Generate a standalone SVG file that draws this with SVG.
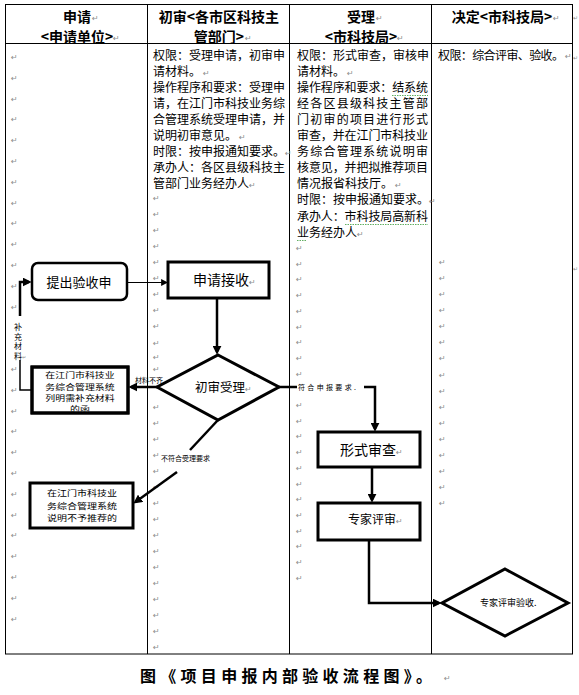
<svg xmlns="http://www.w3.org/2000/svg" width="579" height="695" viewBox="0 0 579 695">
<style>
.tbl{fill:none;stroke:#000;stroke-width:1}
.hd{font-family:"Noto Sans CJK SC","Liberation Sans",sans-serif;font-size:14px;font-weight:bold;text-anchor:middle;fill:#000}
.bd{font-family:"Noto Sans CJK SC","Liberation Sans",sans-serif;font-size:12px;fill:#000}
.pm{font-family:"DejaVu Sans",sans-serif;font-size:8px;fill:#8c8c8c;font-weight:normal}
.pms{font-family:"DejaVu Sans",sans-serif;font-size:6px;fill:#8c8c8c}
.box{fill:#fff;stroke:#000;stroke-width:3}
.nt{font-family:"Noto Sans CJK SC","Liberation Sans",sans-serif;fill:#000}
.cn{fill:none;stroke:#000;stroke-width:2.5;stroke-linejoin:miter}
.thin{fill:none;stroke:#000;stroke-width:1.2}
.lbl{font-family:"Noto Sans CJK SC","Liberation Sans",sans-serif;font-size:7px;fill:#000}
.wavy{fill:none;stroke:#3a9a3a;stroke-width:0.8;stroke-dasharray:1.5 1}
</style>
<defs>
<marker id="ah" viewBox="0 0 10 10" refX="7" refY="5" markerWidth="9" markerHeight="9" markerUnits="userSpaceOnUse" orient="auto"><path d="M0,0L10,5L0,10z" fill="#000"/></marker>
<marker id="ahs" viewBox="0 0 10 10" refX="7" refY="5" markerWidth="7" markerHeight="7" markerUnits="userSpaceOnUse" orient="auto"><path d="M0,0L10,5L0,10z" fill="#000"/></marker>
<clipPath id="c1"><rect x="33.5" y="368.5" width="93" height="43"/></clipPath>
</defs>
<rect width="579" height="695" fill="#fff"/>

<g id="table">
<rect class="tbl" x="5.5" y="4.5" width="567" height="649.5"/>
<line class="tbl" x1="147.5" y1="4.5" x2="147.5" y2="654"/>
<line class="tbl" x1="289.5" y1="4.5" x2="289.5" y2="654"/>
<line class="tbl" x1="431.5" y1="4.5" x2="431.5" y2="654"/>
<line class="tbl" x1="5.5" y1="43.5" x2="572.5" y2="43.5"/>
</g>

<g id="headers">
<text class="hd" x="77" y="22">申请</text><text class="pm" x="92" y="21">↵</text>
<text class="hd" x="77" y="42">&lt;申请单位&gt;</text><text class="pm" x="113" y="41">↵</text>
<text class="hd" x="219" y="22">初审&lt;各市区科技主</text>
<text class="hd" x="219" y="42">管部门&gt;</text><text class="pm" x="245" y="41">↵</text>
<text class="hd" x="361" y="22">受理</text><text class="pm" x="376" y="21">↵</text>
<text class="hd" x="361" y="42">&lt;市科技局&gt;</text><text class="pm" x="397" y="41">↵</text>
<text class="hd" x="502" y="22">决定&lt;市科技局&gt;</text><text class="pm" x="553" y="21">↵</text>
<text class="pms" x="573" y="20">↵</text>
</g>

<g id="col2-text">
<text class="bd" x="153" y="59.5" textLength="132" lengthAdjust="spacing">权限：受理申请，初审申</text>
<text class="bd" x="153" y="75.6">请材料。<tspan class="pm" dx="2">↵</tspan></text>
<text class="bd" x="153" y="91.7" textLength="132" lengthAdjust="spacing">操作程序和要求：受理申</text>
<text class="bd" x="153" y="107.8" textLength="132" lengthAdjust="spacing">请，在江门市科技业务综</text>
<text class="bd" x="153" y="123.9" textLength="132" lengthAdjust="spacing">合管理系统受理申请，并</text>
<text class="bd" x="153" y="140">说明初审意见。<tspan class="pm" dx="2">↵</tspan></text>
<text class="bd" x="153" y="156.1">时限：按申报通知要求。<tspan class="pm">↵</tspan></text>
<text class="bd" x="153" y="172.2" textLength="132" lengthAdjust="spacing">承办人：各区县级科技主</text>
<text class="bd" x="153" y="188.3">管部门业务经办人<tspan class="pm">↵</tspan></text>
</g>

<g id="col3-text">
<text class="bd" x="297" y="59.5" textLength="132" lengthAdjust="spacing">权限：形式审查，审核申</text>
<text class="bd" x="297" y="75.6">请材料。<tspan class="pm" dx="2">↵</tspan></text>
<text class="bd" x="297" y="91.7" textLength="131" lengthAdjust="spacing">操作程序和要求：结系统</text>
<text class="bd" x="297" y="107.8" textLength="131" lengthAdjust="spacing">经各区县级科技主管部</text>
<text class="bd" x="297" y="123.9" textLength="131" lengthAdjust="spacing">门初审的项目进行形式</text>
<text class="bd" x="297" y="140" textLength="131" lengthAdjust="spacing">审查，并在江门市科技业</text>
<text class="bd" x="297" y="156.1" textLength="131" lengthAdjust="spacing">务综合管理系统说明审</text>
<text class="bd" x="297" y="172.2" textLength="131" lengthAdjust="spacing">核意见，并把拟推荐项目</text>
<text class="bd" x="297" y="188.3">情况报省科技厅。<tspan class="pm" dx="2">↵</tspan></text>
<text class="bd" x="297" y="204.4">时限：按申报通知要求。<tspan class="pm">↵</tspan></text>
<text class="bd" x="297" y="220.5" textLength="131" lengthAdjust="spacing">承办人：市科技局高新科</text>
<text class="bd" x="297" y="236.6">业务经办人<tspan class="pm">↵</tspan></text>
<path class="wavy" d="M392,95.5 H428"/>
<path class="wavy" d="M345,224.5 H428"/>
<path class="wavy" d="M297,240.5 H307"/>
</g>

<g id="col4-text">
<text class="bd" x="438" y="59.5" textLength="126" lengthAdjust="spacing">权限：综合评审、验收。</text>
<text class="pm" x="565" y="59">↵</text>
<text class="pms" x="573" y="60">↵</text>
<text class="pms" x="573" y="271">↵</text>
</g>

<g id="para-marks">
<text class="pm"><tspan x="11" y="60">↵</tspan><tspan x="11" y="80.8">↵</tspan><tspan x="11" y="101.6">↵</tspan><tspan x="11" y="122.4">↵</tspan><tspan x="11" y="143.2">↵</tspan><tspan x="11" y="164">↵</tspan><tspan x="11" y="184.8">↵</tspan><tspan x="11" y="205.6">↵</tspan><tspan x="11" y="226.4">↵</tspan><tspan x="11" y="247.2">↵</tspan><tspan x="11" y="268">↵</tspan><tspan x="11" y="288.8">↵</tspan><tspan x="11" y="309.6">↵</tspan><tspan x="11" y="372">↵</tspan><tspan x="11" y="392.8">↵</tspan><tspan x="11" y="413.6">↵</tspan><tspan x="11" y="434.4">↵</tspan><tspan x="11" y="455.2">↵</tspan><tspan x="11" y="476">↵</tspan><tspan x="11" y="496.8">↵</tspan><tspan x="11" y="517.6">↵</tspan><tspan x="11" y="538.4">↵</tspan><tspan x="11" y="559.2">↵</tspan><tspan x="11" y="580">↵</tspan><tspan x="11" y="600.8">↵</tspan><tspan x="11" y="621.6">↵</tspan></text>
<text class="pm"><tspan x="153" y="201">↵</tspan><tspan x="153" y="217">↵</tspan><tspan x="153" y="233.1">↵</tspan><tspan x="153" y="249.2">↵</tspan><tspan x="153" y="265.2">↵</tspan><tspan x="153" y="281.3">↵</tspan><tspan x="153" y="297.3">↵</tspan><tspan x="153" y="313.4">↵</tspan><tspan x="153" y="329.4">↵</tspan><tspan x="153" y="345.5">↵</tspan><tspan x="153" y="360">↵</tspan><tspan x="153" y="371.5">↵</tspan><tspan x="153" y="409.7">↵</tspan><tspan x="153" y="425.7">↵</tspan><tspan x="153" y="441.8">↵</tspan><tspan x="153" y="457.8">↵</tspan><tspan x="153" y="473.9">↵</tspan><tspan x="153" y="489.9">↵</tspan><tspan x="153" y="506">↵</tspan><tspan x="153" y="522">↵</tspan><tspan x="153" y="538">↵</tspan><tspan x="153" y="554.1">↵</tspan><tspan x="153" y="570.2">↵</tspan><tspan x="153" y="586.2">↵</tspan><tspan x="153" y="602.3">↵</tspan><tspan x="153" y="618.3">↵</tspan><tspan x="153" y="634.4">↵</tspan><tspan x="153" y="650.4">↵</tspan></text>
<text class="pm"><tspan x="296" y="251">↵</tspan><tspan x="296" y="266.7">↵</tspan><tspan x="296" y="282.4">↵</tspan><tspan x="296" y="298.1">↵</tspan><tspan x="296" y="313.8">↵</tspan><tspan x="296" y="329.5">↵</tspan><tspan x="296" y="345.2">↵</tspan><tspan x="296" y="360.9">↵</tspan><tspan x="296" y="376.6">↵</tspan><tspan x="296" y="408">↵</tspan><tspan x="296" y="423.7">↵</tspan><tspan x="296" y="439.4">↵</tspan><tspan x="296" y="455.1">↵</tspan><tspan x="296" y="470.8">↵</tspan><tspan x="296" y="486.5">↵</tspan><tspan x="296" y="502.2">↵</tspan><tspan x="296" y="517.9">↵</tspan><tspan x="296" y="533.6">↵</tspan><tspan x="296" y="549.3">↵</tspan><tspan x="296" y="565">↵</tspan><tspan x="296" y="580.7">↵</tspan></text>
<text class="pm"><tspan x="439" y="265">↵</tspan><tspan x="439" y="281.1">↵</tspan><tspan x="439" y="297.1">↵</tspan><tspan x="439" y="313.2">↵</tspan><tspan x="439" y="329.3">↵</tspan><tspan x="439" y="345.4">↵</tspan><tspan x="439" y="361.4">↵</tspan><tspan x="439" y="377.5">↵</tspan><tspan x="439" y="393.6">↵</tspan><tspan x="439" y="409.6">↵</tspan><tspan x="439" y="425.7">↵</tspan><tspan x="439" y="441.8">↵</tspan><tspan x="439" y="457.8">↵</tspan><tspan x="439" y="473.9">↵</tspan><tspan x="439" y="490">↵</tspan><tspan x="439" y="506">↵</tspan></text>
</g>

<g id="connectors">
<path class="thin" d="M127,282.5 H166" marker-end="url(#ahs)"/>
<path class="cn" d="M217,298 V352" marker-end="url(#ah)"/>
<path class="cn" d="M157,387 H131" marker-end="url(#ah)"/>
<path class="cn" d="M218,420 L190,450"/>
<path class="cn" d="M177,472 L135.5,502" marker-end="url(#ah)"/>
<path class="cn" d="M279,387 H297"/>
<path class="cn" d="M364,387 H375 V429" marker-end="url(#ah)"/>
<path class="cn" d="M372,467 V500" marker-end="url(#ah)"/>
<path class="cn" d="M369,540 V603 H439" marker-end="url(#ah)"/>
<path class="thin" d="M32,390 H20 V360" style="stroke-width:1.5"/>
<path class="cn" d="M20,316 V282 H29" marker-end="url(#ah)"/>
</g>

<g id="connector-labels">
<text class="nt" style="font-size:8px" text-anchor="middle"><tspan x="18" y="330">补</tspan><tspan x="18" y="339.5">充</tspan><tspan x="18" y="349">材</tspan><tspan x="18" y="358.5">料</tspan></text>
<text class="pm" x="22" y="359" style="font-size:5px">↵</text>
<text class="lbl" x="135" y="382.5">材料不齐</text>
<text class="lbl" x="161" y="460.5">不符合受理要求</text>
<text class="lbl" x="298" y="390" textLength="58" lengthAdjust="spacing">符合申报要求.</text>
</g>

<g id="node-submit">
<rect x="32" y="263" width="95" height="37" rx="6" fill="#fff" stroke="#000" stroke-width="2.5"/>
<text class="nt" x="79" y="287" text-anchor="middle" style="font-size:13px">提出验收申</text>
</g>

<g id="node-receive">
<rect class="box" x="168" y="262" width="101" height="36"/>
<text class="nt" x="193" y="285" style="font-size:14px">申请接收<tspan class="pm">↵</tspan></text>
</g>

<g id="node-initial-review">
<polygon class="box" points="218,355 279,387 218,420 157,387"/>
<text class="nt" x="195" y="392" style="font-size:12.5px">初审受理<tspan class="pm">↵</tspan></text>
</g>

<g id="node-supplement">
<rect class="box" x="32" y="367" width="96" height="46"/>
<g clip-path="url(#c1)">
<text class="nt" text-anchor="middle" transform="scale(1.27,1)" style="font-size:7.8px"><tspan x="63" y="378.5">在江门市科技业</tspan><tspan x="63" y="389.8">务综合管理系统</tspan><tspan x="63" y="401.1">列明需补充材料</tspan><tspan x="63" y="412.4">的函</tspan></text>
</g>
<rect x="32" y="367" width="96" height="46" fill="none" stroke="#000" stroke-width="3"/>
</g>

<g id="node-reject">
<rect class="box" x="30" y="483" width="103" height="45"/>
<text class="nt" text-anchor="middle" transform="scale(1.18,1)" style="font-size:8.5px"><tspan x="69.5" y="496.5">在江门市科技业</tspan><tspan x="69.5" y="509">务综合管理系统</tspan><tspan x="69.5" y="521.5">说明不予推荐的</tspan></text>
</g>

<g id="node-formal-review">
<rect class="box" x="318" y="432" width="102" height="35"/>
<text class="nt" x="340" y="455" style="font-size:14px">形式审查<tspan class="pm">↵</tspan></text>
</g>

<g id="node-expert-review">
<rect class="box" x="318" y="503" width="102" height="37"/>
<text class="nt" x="348" y="524" style="font-size:12px">专家评审<tspan class="pm">↵</tspan></text>
</g>

<g id="node-expert-acceptance">
<polygon class="box" points="505,569 568,603 505,636 442,603"/>
<text class="nt" x="480" y="606" style="font-size:9px">专家评审验收.</text>
</g>

<g id="caption">
<text class="nt" x="140" y="682" textLength="292" lengthAdjust="spacing" style="font-size:16px;font-weight:bold">图《项目申报内部验收流程图》。</text>
<text class="pm" x="444" y="681">↵</text>
</g>
</svg>
